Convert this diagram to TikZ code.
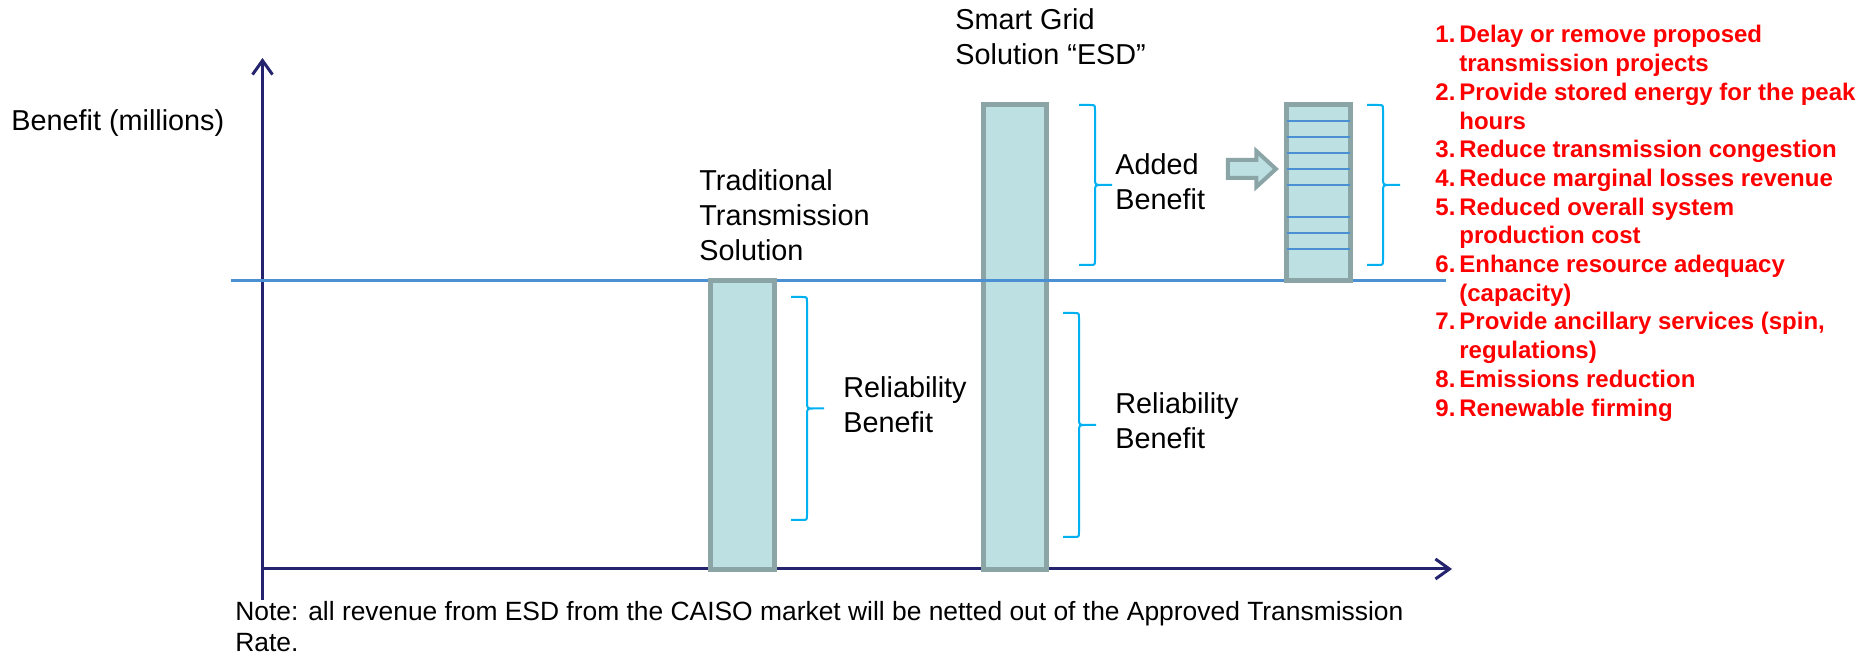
\documentclass[tikz,border=0pt]{standalone}
\usepackage{fontspec}
\setmainfont{Liberation Sans}
\usetikzlibrary{arrows.meta,shapes.arrows}

\definecolor{axisnavy}{RGB}{36,36,110}
\definecolor{levelblue}{RGB}{74,144,210}
\definecolor{barfill}{RGB}{189,224,227}
\definecolor{barline}{RGB}{139,165,167}
\definecolor{bracecyan}{RGB}{0,176,240}

% right-hand curly bracket: ends at x=#1, runs from y=#2 down to y=#3
\newcommand\benefitbrace[3]{%
  \draw[curly] (#1,#2) -- ({#1+11},#2) .. controls ({#1+16},#2) .. ({#1+16},{#2+5})
    -- ({#1+16},{(#2+#3)/2-7}) .. controls ({#1+16},{(#2+#3)/2}) .. ({#1+23},{(#2+#3)/2})
    -- ({#1+33},{(#2+#3)/2}) -- ({#1+23},{(#2+#3)/2})
    .. controls ({#1+16},{(#2+#3)/2}) .. ({#1+16},{(#2+#3)/2+7})
    -- ({#1+16},{#3-5}) .. controls ({#1+16},#3) .. ({#1+11},#3) -- (#1,#3);}

\begin{document}
\begin{tikzpicture}[x=0.5pt,y=-0.5pt,
  chartaxis/.style={draw=axisnavy,line width=1.5pt,-{Straight Barb[length=7pt,width=10pt]}},
  level/.style={draw=levelblue,line width=1.5pt},
  bar/.style={draw=barline,fill=barfill,line width=2.5pt},
  curly/.style={draw=bracecyan,line width=1pt},
  lbl/.style={font=\fontsize{14.4}{17.5}\selectfont,align=left,anchor=base west,inner sep=0pt},
  redlist/.style={font=\fontsize{12}{14.35}\selectfont\bfseries,text=red,anchor=base west,inner sep=0pt}]
\useasboundingbox (0,0) rectangle (1860,656);

% axes
\coordinate (O) at (262.5,569);
\coordinate (ybot) at (262.5,600);
\coordinate (ytop) at (262.5,58);
\coordinate (xtip) at (1452,569);
\draw[chartaxis] (ybot) -- (ytop);
\draw[chartaxis] (O) -- (xtip);

% bars and the level of the traditional solution
\coordinate (lvlL) at (231,281);
\coordinate (lvlR) at (1446,281);
\draw[bar] (983.5,104.5) rectangle (1046.5,569.5);
\draw[level] (lvlL) -- (lvlR);
\draw[bar] (710.5,280.5) rectangle (774.5,569.5);
\draw[bar] (1286.5,104.5) rectangle (1350.5,280.5);
\foreach \y in {121,137,153,169,185,217,233,249}
  \draw[levelblue,line width=1pt] (1287,\y) -- (1350,\y);

\node[single arrow,draw=barline,fill=barfill,line width=2pt,inner sep=0pt,inner ysep=3.5pt,
  minimum height=24pt,minimum width=16pt,single arrow head extend=4.5pt,
  single arrow tip angle=85] (split) at (1247,169) {};

% brackets
\benefitbrace{791}{297}{520}
\benefitbrace{1063}{313}{537}
\benefitbrace{1079}{105}{265}
\benefitbrace{1367}{105}{265}

% labels (base = last line)
\node[lbl] (yname) at (11,131) {Benefit (millions)};
\node[lbl] (trad) at (699,261) {Traditional\\Transmission\\Solution};
\node[lbl] (smart) at (955,65) {Smart Grid\\Solution “ESD”};
\node[lbl] (added) at (1115,210) {Added\\Benefit};
\node[lbl] (relA) at (843,433) {Reliability\\Benefit};
\node[lbl] (relB) at (1115,449) {Reliability\\Benefit};
\node[lbl,font=\fontsize{13.2}{15.5}\selectfont] (note) at (235,652)
  {Note: all revenue from ESD from the CAISO market will be netted out of the Approved Transmission\\Rate.};

\node[redlist] (gains) at (1435,43) {%
\begin{tabular}[t]{@{}p{12pt}@{}l@{}}
1.&Delay or remove proposed\\
  &transmission projects\\
2.&Provide stored energy for the peak\\
  &hours\\
3.&Reduce transmission congestion\\
4.&Reduce marginal losses revenue\\
5.&Reduced overall system\\
  &production cost\\
6.&Enhance resource adequacy\\
  &(capacity)\\
7.&Provide ancillary services (spin,\\
  &regulations)\\
8.&Emissions reduction\\
9.&Renewable firming
\end{tabular}};
\end{tikzpicture}
\end{document}
